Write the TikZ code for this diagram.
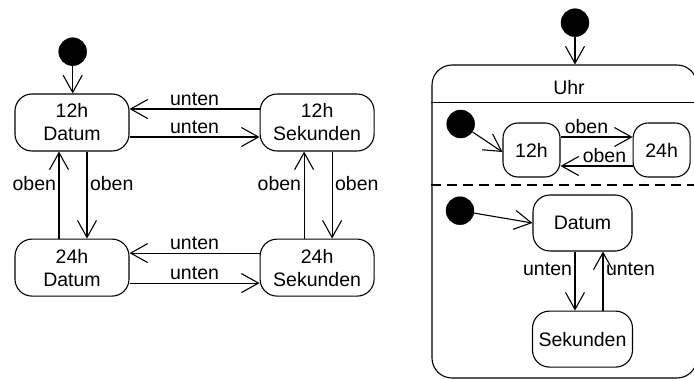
\documentclass[tikz,border=0pt]{standalone}
\usepackage{fontspec}
\setmainfont{Liberation Sans}
\usetikzlibrary{arrows.meta,positioning}
\tikzset{state/.style={draw, rounded corners=17pt, align=center, inner sep=1pt, line width=1.1pt}, init/.style={circle, fill=black, draw, minimum size=28pt, inner sep=0pt}, tr/.style={-{Straight Barb[length=17pt,width=19pt]}, line width=1.1pt}, lbl/.style={inner sep=2.5pt}}

\begin{document}
\begin{tikzpicture}[x=1pt,y=-1pt,font=\fontsize{19.5}{23}\selectfont]
\useasboundingbox (0,0) rectangle (694,380);
% left: flat state machine
\node[state,minimum width=114pt,minimum height=57pt] (d12) at (72,122.5) {12h\\Datum};
\node[state,right=130pt of d12,minimum width=114pt,minimum height=57pt] (s12) {12h\\Sekunden};
\node[state,below=87pt of d12,minimum width=114pt,minimum height=57pt] (d24) {24h\\Datum};
\node[state,below=87pt of s12,minimum width=114pt,minimum height=57pt] (s24) {24h\\Sekunden};
\node[init] (i1) at (72.7,51.7) {};
\draw[tr] (i1) -- (i1 |- d12.north);
\draw[tr] ([yshift=13.5pt]s12.west) -- node[above,lbl]{unten} ([yshift=13.5pt]d12.east);
\draw[tr] ([yshift=-14.5pt]d12.east) -- node[above,lbl]{unten} ([yshift=-14.5pt]s12.west);
\draw[tr] ([yshift=14.5pt]s24.west) -- node[above,lbl]{unten} ([yshift=14.5pt]d24.east);
\draw[tr] ([yshift=-15.5pt]d24.east) -- node[above,lbl]{unten} ([yshift=-15.5pt]s24.west);
\draw[tr] ([xshift=-13pt]d24.north) -- node[left,lbl,pos=0.63]{oben} ([xshift=-13pt]d12.south);
\draw[tr] ([xshift=15pt]d12.south) -- node[right,lbl,pos=0.37]{oben} ([xshift=15pt]d24.north);
\draw[tr] ([xshift=-13pt]s24.north) -- node[left,lbl,pos=0.63]{oben} ([xshift=-13pt]s12.south);
\draw[tr] ([xshift=15pt]s12.south) -- node[right,lbl,pos=0.37]{oben} ([xshift=15pt]s24.north);
% right: composite state Uhr
\node[init] (i2) at (575,22.7) {};
\node[draw,line width=1.1pt,rounded corners=20pt,minimum width=265pt,minimum height=313pt] (uhr) at (564.5,221.5) {};
\draw[tr] (i2) -- (i2 |- uhr.north);
\node (uhrt) at (569,88) {Uhr};
\draw[line width=1.1pt] (uhr.west |- 0,102.3) -- (uhr.east |- 0,102.3);
\draw[line width=1.1pt,dash pattern=on 10pt off 6pt] (uhr.west |- 0,185) -- (uhr.east |- 0,185);
\node[state,rounded corners=15pt,minimum width=57pt,minimum height=54pt] (h12) at (531.5,150) {12h};
\node[state,rounded corners=15pt,right=72pt of h12,minimum width=57pt,minimum height=54pt] (h24) {24h};
\node[init] (i3) at (460.7,124) {};
\draw[tr] (i3) -- ([yshift=-2pt]h12.west);
\draw[tr] ([yshift=13pt]h12.east) -- node[above,lbl,pos=0.36]{oben} ([yshift=13pt]h24.west);
\draw[tr] ([yshift=-16pt]h24.west) -- node[above,lbl,pos=0.39]{oben} ([yshift=-16pt]h12.east);
\node[state,minimum width=99pt,minimum height=56pt] (dat) at (582.5,223) {Datum};
\node[state,below=59pt of dat,minimum width=100pt,minimum height=56pt] (sek) {Sekunden};
\node[init] (i4) at (460,210.7) {};
\draw[tr] (i4) -- (dat.west);
\draw[tr] ([xshift=-7.5pt]dat.south) -- node[left,lbl,pos=0.3]{unten} ([xshift=-7.5pt]dat.south |- sek.north);
\draw[tr] ([xshift=20.5pt]sek.north) -- node[right,lbl,pos=0.7]{unten} ([xshift=20.5pt]sek.north |- dat.south);
\end{tikzpicture}
\end{document}
